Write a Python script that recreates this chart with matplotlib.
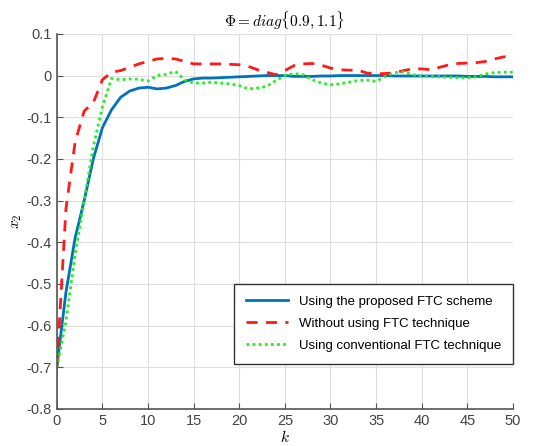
import matplotlib
matplotlib.use("Agg")
import matplotlib.pyplot as plt
import numpy as np

plt.rcParams['font.family'] = ['Liberation Sans', 'DejaVu Sans']
plt.rcParams['mathtext.fontset'] = 'cm'

k = np.arange(0, 51)

x2_proposed = [-0.70, -0.52, -0.39, -0.30, -0.20, -0.125, -0.082, -0.052, -0.037, -0.030,
               -0.028, -0.032, -0.030, -0.024, -0.014, -0.008, -0.006, -0.006, -0.005, -0.004,
               -0.003, -0.002, -0.001, 0.000, 0.000, 0.000, -0.002, -0.002, -0.002, -0.001,
               -0.001, 0.000, 0.000, 0.000, 0.000, 0.000, 0.000, -0.001, -0.001, -0.001,
               -0.001, -0.001, -0.001, -0.001, -0.001, -0.002, -0.002, -0.002, -0.003, -0.003,
               -0.003]
x2_no_ftc = [-0.70, -0.32, -0.16, -0.085, -0.065, -0.010, 0.008, 0.012, 0.020, 0.028,
             0.034, 0.040, 0.041, 0.040, 0.034, 0.028, 0.028, 0.028, 0.028, 0.027,
             0.026, 0.022, 0.014, 0.008, 0.002, 0.012, 0.024, 0.028, 0.029, 0.025,
             0.018, 0.014, 0.013, 0.013, 0.006, 0.004, 0.005, 0.006, 0.012, 0.016,
             0.016, 0.014, 0.020, 0.026, 0.029, 0.030, 0.031, 0.034, 0.040, 0.045,
             0.045]
x2_conv = [-0.70, -0.59, -0.43, -0.30, -0.17, -0.075, -0.007, -0.010, -0.008, -0.009,
           -0.013, 0.000, 0.003, 0.010, -0.010, -0.018, -0.018, -0.016, -0.018, -0.020,
           -0.024, -0.032, -0.030, -0.026, -0.012, 0.000, 0.005, 0.002, -0.010, -0.018,
           -0.022, -0.020, -0.016, -0.012, -0.011, -0.014, -0.002, 0.007, 0.009, 0.002,
           -0.001, -0.002, -0.003, -0.004, -0.005, -0.005, -0.003, 0.004, 0.007, 0.008,
           0.008]

labels = ["Using the proposed FTC scheme",
          "Without using FTC technique",
          "Using conventional FTC technique"]

f = plt.figure(figsize=(5.36, 4.46), dpi=100)
ax = f.add_axes([0.106, 0.083, 0.851, 0.841])

ax.plot(k, x2_proposed, c="#0072BD", lw=2, label=labels[0])
ax.plot(k, x2_no_ftc, c="#FF1A1A", ls=(0, (4, 3)), lw=2, label=labels[1])
ax.plot(k, x2_conv, c="#22EE22", ls=(0, (1, 1.2)), lw=2, label=labels[2])

ax.set_xlim(0, 50)
ax.set_ylim(-0.8, 0.1)
ax.set_xticks(np.arange(0, 51, 5))
ax.set_yticks(np.arange(-0.8, 0.11, 0.1))
ax.set_yticklabels(["-0.8", "-0.7", "-0.6", "-0.5", "-0.4", "-0.3", "-0.2", "-0.1", "0", "0.1"])
ax.grid(True, color="#dedede", lw=0.8)
ax.set_axisbelow(True)

for s in ["top", "right"]:
    ax.spines[s].set_visible(False)
for s in ["left", "bottom"]:
    ax.spines[s].set_color("#555555")
    ax.spines[s].set_linewidth(1.2)
ax.tick_params(direction="in", length=4, colors="#555555", labelsize=10.5)
for t in ax.get_xticklabels() + ax.get_yticklabels():
    t.set_color("#444444")

ax.set_title(r"$\Phi = diag\{0.9, 1.1\}$", fontsize=11, pad=6)
ax.set_xlabel(r"$k$", fontsize=11, labelpad=1)
ax.set_ylabel(r"$x_2$", fontsize=11, labelpad=2)

leg = ax.legend(loc="lower right", bbox_to_anchor=(1.0, 0.12), borderaxespad=0,
                fontsize=9.5, fancybox=False, edgecolor="#333333", framealpha=1,
                handlelength=3.2, borderpad=0.9, labelspacing=0.75)
leg.get_frame().set_linewidth(1.0)

f.savefig("out.png", dpi=100)
